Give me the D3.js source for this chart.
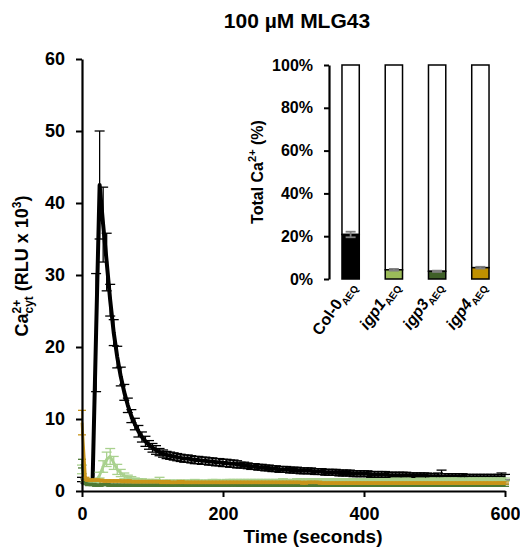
<!DOCTYPE html>
<html><head><meta charset="utf-8">
<script src="https://cdn.jsdelivr.net/npm/d3@7"></script>
<style>
body{margin:0;background:#fff}
text{font-family:"Liberation Sans",Arial,sans-serif;font-weight:bold;fill:#000}
</style>
</head><body>
<svg id="chart" width="520" height="548"></svg>
<script>
// ---------- DATA ----------
const timeStep = 5; // seconds between readings, 0..600
const times = d3.range(0, 601, timeStep);

const col0 = [
1.6,1.4,1.2,1.2,22.0,
42.5,37.0,31.8,26.5,22.0,
18.6,15.9,13.7,11.9,10.4,
9.3,8.3,7.5,6.9,6.4,
6.0,5.7,5.4,5.2,5.0,
4.9,4.8,4.7,4.6,4.5,
4.5,4.4,4.3,4.3,4.2,
4.2,4.1,4.1,4.0,4.0,
3.9,3.9,3.8,3.8,3.7,
3.6,3.6,3.5,3.4,3.4,
3.3,3.3,3.2,3.2,3.1,
3.1,3.0,3.0,3.0,2.9,
2.9,2.9,2.8,2.8,2.8,
2.8,2.7,2.7,2.7,2.6,
2.6,2.6,2.6,2.5,2.5,
2.5,2.5,2.4,2.4,2.4,
2.4,2.4,2.3,2.3,2.3,
2.3,2.3,2.2,2.2,2.2,
2.2,2.2,2.2,2.1,2.1,
2.1,2.1,2.1,2.1,2.0,
2.0,2.1,2.0,2.0,2.0,
2.0,2.0,2.0,2.0,1.9,
1.9,1.9,1.9,1.9,1.9,
1.9,1.9,1.9,1.9,1.9,
1.9];
const col0Err = [
0.3,0.3,0.3,0.3,8.2,
7.5,5.2,4.0,2.2,1.8,
1.5,1.3,1.1,1.0,0.9,
0.8,0.8,0.7,0.7,0.6,
0.6,0.6,0.5,0.5,0.5,
0.5,0.5,0.5,0.5,0.5,
0.5,0.5,0.5,0.5,0.5,
0.5,0.5,0.5,0.5,0.5,
0.5,0.5,0.5,0.5,0.5,
0.4,0.4,0.4,0.4,0.4,
0.4,0.4,0.4,0.4,0.4,
0.4,0.4,0.4,0.4,0.4,
0.4,0.4,0.4,0.4,0.4,
0.4,0.4,0.4,0.4,0.4,
0.4,0.4,0.4,0.4,0.4,
0.4,0.4,0.4,0.4,0.4,
0.4,0.4,0.4,0.4,0.4,
0.4,0.4,0.4,0.4,0.4,
0.4,0.4,0.4,0.4,0.4,
0.4,0.4,0.4,0.4,0.4,
0.4,0.4,0.9,0.4,0.4,
0.4,0.4,0.4,0.4,0.4,
0.4,0.4,0.4,0.4,0.4,
0.4,0.4,0.4,0.4,0.6,
0.4];

const igp1 = [
3.0,1.5,1.3,1.3,1.4,
2.2,3.4,4.4,4.8,3.9,
3.0,2.5,2.1,1.9,1.7,
1.6,1.5,1.5,1.4,1.4,
1.4,1.4,1.4,1.3,1.3,
1.3,1.3,1.3,1.3,1.3,
1.3,1.3,1.4,1.3,1.3,
1.3,1.3,1.4,1.4,1.3,
1.3,1.4,1.4,1.4,1.4,
1.4,1.4,1.4,1.4,1.4,
1.4,1.4,1.4,1.4,1.4,
1.4,1.4,1.5,1.4,1.4,
1.4,1.5,1.5,1.4,1.5,
1.5,1.5,1.5,1.5,1.5,
1.5,1.5,1.5,1.5,1.5,
1.5,1.5,1.5,1.5,1.5,
1.5,1.5,1.5,1.5,1.5,
1.5,1.5,1.5,1.5,1.6,
1.5,1.5,1.6,1.5,1.5,
1.5,1.6,1.5,1.5,1.6,
1.6,1.5,1.6,1.6,1.6,
1.6,1.6,1.6,1.5,1.6,
1.6,1.6,1.6,1.6,1.6,
1.6,1.6,1.6,1.6,1.6,
1.6];
const igp1Err = [
0.6,0.2,0.2,0.2,0.2,
0.4,0.8,1.0,1.1,0.9,
0.7,0.5,0.4,0.3,0.3,
0.2,0.2,0.2,0.2,0.2,
0.2,0.2,0.5,0.2,0.2,
0.2,0.2,0.2,0.2,0.2,
0.2,0.2,0.2,0.2,0.2,
0.2,0.2,0.2,0.2,0.2,
0.2,0.2,0.2,0.2,0.2,
0.2,0.2,0.2,0.2,0.2,
0.2,0.2,0.2,0.2,0.2,
0.2,0.2,0.2,0.2,0.2,
0.2,0.2,0.2,0.2,0.2,
0.2,0.2,0.2,0.2,0.2,
0.2,0.2,0.2,0.2,0.2,
0.2,0.2,0.2,0.2,0.2,
0.2,0.2,0.2,0.2,0.2,
0.2,0.2,0.2,0.2,0.2,
0.2,0.2,0.2,0.2,0.2,
0.2,0.2,0.2,0.2,0.2,
0.2,0.2,0.2,0.2,0.2,
0.2,0.2,0.2,0.2,0.2,
0.2,0.2,0.2,0.2,0.2,
0.2,0.2,0.2,0.2,0.2,
0.2];

const igp3 = [
3.8,1.1,0.9,0.9,0.8,
0.8,0.9,0.9,0.8,0.8,
0.8,0.8,0.8,0.8,0.8,
0.8,0.8,0.8,0.8,0.8,
0.8,0.8,0.8,0.8,0.8,
0.8,0.8,0.9,0.8,0.8,
0.8,0.8,0.8,0.8,0.8,
0.8,0.8,0.8,0.8,0.8,
0.8,0.8,0.8,0.9,0.8,
0.8,0.8,0.8,0.8,0.8,
0.8,0.8,0.8,0.8,0.8,
0.8,0.8,0.8,0.8,0.8,
0.8,0.8,0.8,0.8,0.8,
0.8,0.8,0.8,0.8,0.8,
0.8,0.8,0.8,0.8,0.8,
0.8,0.8,0.8,0.8,0.8,
0.8,0.8,0.8,0.8,0.8,
0.8,0.8,0.8,0.8,0.8,
0.8,0.8,0.8,0.8,0.8,
0.8,0.8,0.8,0.8,0.8,
0.8,0.8,0.8,0.8,0.8,
0.8,0.8,0.8,0.8,0.8,
0.8,0.8,0.8,0.8,0.8,
0.8,0.8,0.8,0.8,0.8,
0.8];
const igp3Err = [
0.6,0.2,0.15,0.15,0.15,
0.15,0.15,0.15,0.15,0.15,
0.15,0.15,0.15,0.15,0.15,
0.15,0.15,0.15,0.15,0.15,
0.15,0.15,0.15,0.15,0.15,
0.15,0.15,0.15,0.15,0.15,
0.15,0.15,0.15,0.15,0.15,
0.15,0.15,0.15,0.15,0.15,
0.15,0.15,0.15,0.15,0.15,
0.15,0.15,0.15,0.15,0.15,
0.15,0.15,0.15,0.15,0.15,
0.15,0.15,0.15,0.15,0.15,
0.15,0.15,0.15,0.15,0.15,
0.15,0.15,0.15,0.15,0.15,
0.15,0.15,0.15,0.15,0.15,
0.15,0.15,0.15,0.15,0.15,
0.15,0.15,0.15,0.15,0.15,
0.15,0.15,0.15,0.15,0.15,
0.15,0.15,0.15,0.15,0.15,
0.15,0.15,0.15,0.15,0.15,
0.15,0.15,0.15,0.15,0.15,
0.15,0.15,0.15,0.15,0.15,
0.15,0.15,0.15,0.15,0.15,
0.15,0.15,0.15,0.15,0.15,
0.15];

const igp4 = [
9.5,1.7,1.5,1.5,1.5,
1.5,1.4,1.4,1.4,1.4,
1.4,1.4,1.3,1.4,1.3,
1.3,1.3,1.3,1.3,1.3,
1.3,1.3,1.3,1.2,1.3,
1.2,1.2,1.2,1.3,1.2,
1.2,1.2,1.2,1.2,1.2,
1.2,1.2,1.2,1.2,1.2,
1.2,1.2,1.2,1.2,1.2,
1.2,1.2,1.2,1.2,1.2,
1.2,1.2,1.2,1.2,1.2,
1.2,1.2,1.2,1.2,1.2,
1.2,1.2,1.2,1.1,1.2,
1.2,1.2,1.2,1.1,1.1,
1.1,1.1,1.1,1.1,1.1,
1.1,1.1,1.1,1.1,1.1,
1.1,1.1,1.1,1.1,1.1,
1.1,1.1,1.1,1.1,1.1,
1.1,1.1,1.1,1.1,1.1,
1.1,1.1,1.1,1.1,1.1,
1.1,1.1,1.1,1.1,1.1,
1.1,1.1,1.1,1.1,1.1,
1.1,1.1,1.1,1.1,1.1,
1.1,1.1,1.1,1.1,1.1,
1.1];
const igp4Err = [
1.7,0.2,0.15,0.15,0.15,
0.15,0.15,0.15,0.15,0.15,
0.15,0.15,0.15,0.15,0.15,
0.15,0.15,0.15,0.15,0.15,
0.15,0.15,0.15,0.15,0.15,
0.15,0.15,0.15,0.15,0.15,
0.15,0.15,0.15,0.15,0.15,
0.15,0.15,0.15,0.15,0.15,
0.15,0.15,0.15,0.15,0.15,
0.15,0.15,0.15,0.15,0.15,
0.15,0.15,0.15,0.15,0.15,
0.15,0.15,0.15,0.15,0.15,
0.15,0.15,0.15,0.15,0.15,
0.15,0.15,0.15,0.15,0.15,
0.15,0.15,0.15,0.15,0.15,
0.15,0.15,0.15,0.15,0.15,
0.15,0.15,0.15,0.15,0.15,
0.15,0.15,0.15,0.15,0.15,
0.15,0.15,0.15,0.15,0.15,
0.15,0.15,0.15,0.15,0.15,
0.15,0.15,0.15,0.15,0.15,
0.15,0.15,0.15,0.15,0.15,
0.15,0.15,0.15,0.15,0.15,
0.15,0.15,0.15,0.15,0.15,
0.15];

const xTicks = [0, 200, 400, 600];
const yTicks = [0, 10, 20, 30, 40, 50, 60];

// inset
const genotypes = ["Col-0", "igp1", "igp3", "igp4"];
const totalPct = [20.8, 4.3, 3.6, 5.3];
const totalErr = [1.3, 0.4, 0.3, 0.4];
const insetTicks = [0, 20, 40, 60, 80, 100];

// ---------- STYLE ----------
const lineColors = ["#000000", "#a9d18e", "#4e7a34", "#c9951a"];
const barColors = ["#000000", "#9bbb59", "#3f5f28", "#bf9000"];

const series = [
  {name: "Col-0", v: col0, e: col0Err, color: lineColors[0], w: 4, cw: 5},
  {name: "igp1", v: igp1, e: igp1Err, color: lineColors[1], w: 2.8, cw: 5},
  {name: "igp3", v: igp3, e: igp3Err, color: lineColors[2], w: 2.8, cw: 4},
  {name: "igp4", v: igp4, e: igp4Err, color: lineColors[3], w: 2.8, cw: 4}
];

const svg = d3.select("#chart");

// ---------- MAIN CHART ----------
const x = d3.scaleLinear().domain([0, 600]).range([82, 505]);
const y = d3.scaleLinear().domain([0, 60]).range([491, 59]);

const drawOrder = [0, 1, 2, 3];
drawOrder.forEach(si => {
  const s = series[si];
  const g = svg.append("g");
  const line = d3.line().x((d, i) => x(times[i])).y(d => y(d));
  g.append("path").datum(s.v).attr("d", line)
    .attr("fill", "none").attr("stroke", s.color)
    .attr("stroke-width", s.w).attr("stroke-linejoin", "round");
  const eb = g.selectAll("g.eb").data(s.v.map((v, i) => ({t: times[i], v, e: s.e[i]})))
    .enter().append("g");
  const cw = s.cw;
  eb.append("line").attr("x1", d => x(d.t)).attr("x2", d => x(d.t))
    .attr("y1", d => y(d.v + d.e)).attr("y2", d => y(d.v - d.e))
    .attr("stroke", s.color).attr("stroke-width", 1.3);
  eb.append("line").attr("x1", d => x(d.t) - cw).attr("x2", d => x(d.t) + cw)
    .attr("y1", d => y(d.v + d.e)).attr("y2", d => y(d.v + d.e))
    .attr("stroke", s.color).attr("stroke-width", 1.3);
  eb.append("line").attr("x1", d => x(d.t) - cw).attr("x2", d => x(d.t) + cw)
    .attr("y1", d => y(d.v - d.e)).attr("y2", d => y(d.v - d.e))
    .attr("stroke", s.color).attr("stroke-width", 1.3);
});

const yAxis = svg.append("g").attr("transform", "translate(82,0)")
  .call(d3.axisLeft(y).tickValues(yTicks).tickSize(6).tickSizeOuter(0).tickPadding(11));
const xAxis = svg.append("g").attr("transform", "translate(0,491)")
  .call(d3.axisBottom(x).tickValues(xTicks).tickSize(6).tickSizeOuter(0).tickPadding(10));
[yAxis, xAxis].forEach(a => {
  a.select(".domain").attr("stroke-width", 2.2);
  a.selectAll(".tick line").attr("stroke-width", 2);
  a.selectAll(".tick text").style("font-size", "18px").style("font-weight", "bold")
    .style("font-family", '"Liberation Sans",Arial,sans-serif');
});

// title
svg.append("text").attr("x", 297).attr("y", 28).attr("text-anchor", "middle")
  .style("font-size", "21px").text("100 µM MLG43");

// x title
svg.append("text").attr("x", 313).attr("y", 543).attr("text-anchor", "middle")
  .style("font-size", "19px").text("Time (seconds)");

// y title
const yt = svg.append("text").attr("transform", "translate(28,266) rotate(-90)")
  .attr("text-anchor", "middle").style("font-size", "18px");
yt.append("tspan").text("Ca");
yt.append("tspan").attr("dy", -7).style("font-size", "12px").text("2+");
yt.append("tspan").attr("dx", -13.7).attr("dy", 12).style("font-size", "12px").text("cyt");
yt.append("tspan").attr("dy", -5).text(" (RLU x 10");
yt.append("tspan").attr("dy", -7).style("font-size", "12px").text("3");
yt.append("tspan").attr("dy", 7).text(")");

// ---------- INSET ----------
const xi = d3.scaleBand().domain(genotypes).range([329, 502]).paddingInner(0.6).paddingOuter(0.3);
const yi = d3.scaleLinear().domain([0, 100]).range([279, 65]);

const bars = svg.append("g");
genotypes.forEach((gname, i) => {
  const bx = xi(gname), bw = xi.bandwidth();
  bars.append("rect").attr("x", bx).attr("width", bw)
    .attr("y", yi(100)).attr("height", yi(totalPct[i]) - yi(100))
    .attr("fill", "#fff").attr("stroke", "#000").attr("stroke-width", 1.5);
  bars.append("rect").attr("x", bx).attr("width", bw)
    .attr("y", yi(totalPct[i])).attr("height", yi(0) - yi(totalPct[i]))
    .attr("fill", barColors[i]).attr("stroke", "#000").attr("stroke-width", 1.5);
  const cx = bx + bw / 2;
  const eg = bars.append("g").attr("stroke", "#7f7f7f").attr("stroke-width", 1.8);
  eg.append("line").attr("x1", cx).attr("x2", cx)
    .attr("y1", yi(totalPct[i] + totalErr[i])).attr("y2", yi(totalPct[i] - totalErr[i]));
  [1, -1].forEach(sg => eg.append("line").attr("x1", cx - 5).attr("x2", cx + 5)
    .attr("y1", yi(totalPct[i] + sg * totalErr[i])).attr("y2", yi(totalPct[i] + sg * totalErr[i])));
  // label
  const lab = svg.append("text")
    .attr("transform", `translate(${cx + 5},${286}) rotate(-55)`)
    .attr("text-anchor", "end").style("font-size", "16px");
  lab.append("tspan").style("font-style", i === 0 ? "normal" : "italic").text(gname);
  lab.append("tspan").attr("dy", 4).style("font-size", "10px").style("font-style", "normal").text("AEQ");
});

const yAxisI = svg.append("g").attr("transform", "translate(329,0)")
  .call(d3.axisLeft(yi).tickValues(insetTicks).tickFormat(d => d + "%").tickSize(5).tickSizeOuter(0).tickPadding(11));
yAxisI.select(".domain").attr("stroke-width", 2.2);
yAxisI.selectAll(".tick line").attr("stroke-width", 2);
yAxisI.selectAll(".tick text").style("font-size", "16px").style("font-weight", "bold")
  .style("font-family", '"Liberation Sans",Arial,sans-serif');

const it = svg.append("text").attr("transform", "translate(263,172) rotate(-90)")
  .attr("text-anchor", "middle").style("font-size", "16px");
it.append("tspan").text("Total Ca");
it.append("tspan").attr("dy", -7).style("font-size", "11px").text("2+");
it.append("tspan").attr("dy", 7).text(" (%)");
</script>
</body></html>
